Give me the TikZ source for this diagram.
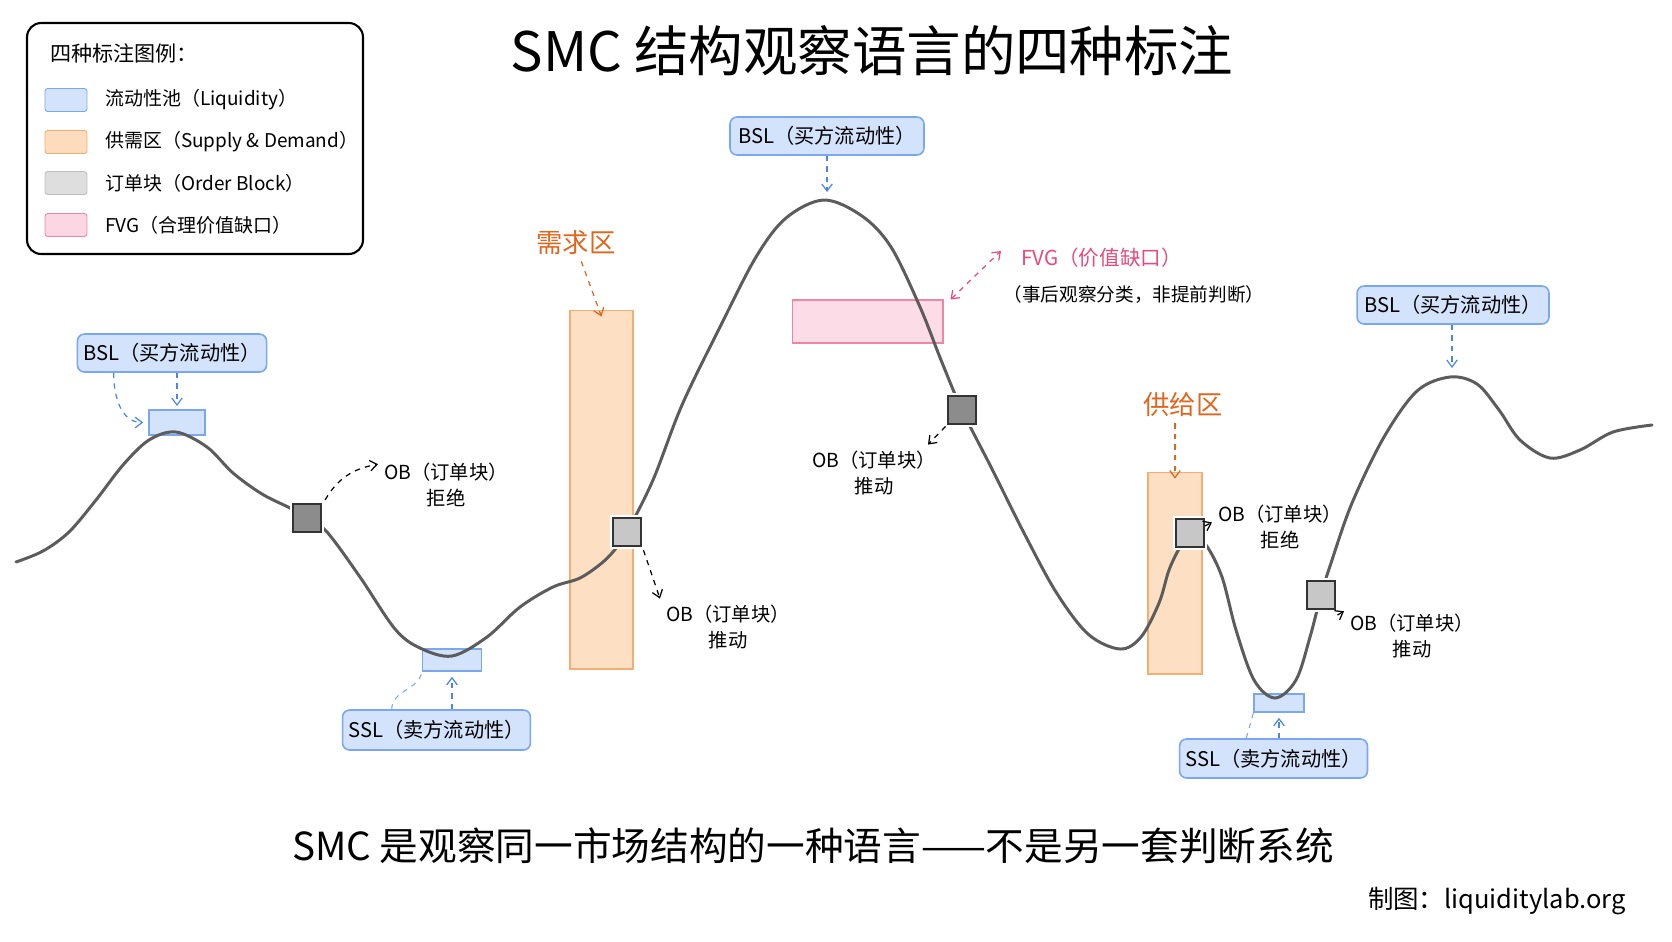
\documentclass[tikz,border=0pt]{standalone}
\usepackage{fontspec}
\setmainfont{Noto Sans CJK SC}
\usetikzlibrary{arrows.meta,positioning}
\definecolor{liqfill}{HTML}{D3E3FC}
\definecolor{liqline}{HTML}{7AA7EE}
\definecolor{liqarrow}{HTML}{4A86E8}
\definecolor{zonefill}{HTML}{FDDCBE}
\definecolor{zoneline}{HTML}{F4AD72}
\definecolor{zonetext}{HTML}{E0661E}
\definecolor{fvgfill}{HTML}{FCD6E2}
\definecolor{fvgline}{HTML}{F085A6}
\definecolor{fvgtext}{HTML}{E84A7C}
\definecolor{pricecol}{HTML}{5C5C5C}
\tikzset{
    frame/.style={draw, line width=1.2pt, rounded corners=8pt,
                  minimum width=6.72cm, minimum height=4.62cm},
    swatch/.style={line width=0.5pt, rounded corners=1.5pt,
                   minimum width=0.84cm, minimum height=0.46cm, inner sep=0pt},
    legtext/.style={font=\fontsize{10.8}{12}\selectfont, anchor=west},
    tag/.style={draw=liqline, fill=liqfill, line width=0.9pt, rounded corners=4pt,
                minimum height=0.76cm, font=\fontsize{11.5}{13}\selectfont},
    liq/.style={draw=liqline, fill=liqfill, line width=0.6pt, inner sep=0pt},
    zone/.style={draw=zoneline, fill=zonefill, fill opacity=0.9, line width=0.6pt, inner sep=0pt},
    fvgbox/.style={draw=fvgline, fill=fvgfill, fill opacity=0.85, line width=0.6pt, inner sep=0pt},
    ob/.style={draw=black!80, line width=0.8pt, minimum size=0.56cm, inner sep=0pt,
               preaction={draw=white, line width=3pt}},
    note/.style={font=\fontsize{11}{15}\selectfont, align=center},
    zonelabel/.style={font=\fontsize{15}{18}\selectfont, text=zonetext},
    flow/.style={-{Straight Barb[length=4pt,width=6pt]}, dashed, line width=0.7pt},
    price/.style={draw=pricecol, line width=1.7pt, line cap=round},
}
\begin{document}
\begin{tikzpicture}[x=0.02cm, y=-0.02cm]
    \useasboundingbox (0,0) rectangle (1672,941);

    % legend
    \node[frame] (legend) at (195,138.5) {};
    \node[anchor=west, font=\fontsize{12}{14}\selectfont] (legtitle) at (44,53) {四种标注图例：};
    \node[swatch, draw=liqline, fill=liqfill] (sw1) at (66,100) {};
    \node[swatch, draw=zoneline, fill=zonefill] (sw2) at (66,142) {};
    \node[swatch, draw=black!25, fill=black!13] (sw3) at (66,183) {};
    \node[swatch, draw=fvgline, fill=fvgfill] (sw4) at (66,225) {};
    \node[legtext] (lg1) at (99,100) {流动性池（Liquidity）};
    \node[legtext] (lg2) at (99,142) {供需区（Supply \& Demand）};
    \node[legtext] (lg3) at (99,183) {订单块（Order Block）};
    \node[legtext] (lg4) at (99,225) {FVG（合理价值缺口）};

    % title
    \node[font=\fontsize{31}{35}\selectfont] (title) at (872,51) {SMC 结构观察语言的四种标注};

    % zones
    \node[zone, minimum width=1.26cm, minimum height=7.18cm] (demand) at (601.5,489.5) {};
    \node[zone, minimum width=1.08cm, minimum height=4.04cm] (supply) at (1175,573) {};
    \node[fvgbox, minimum width=3.02cm, minimum height=0.86cm] (fvg) at (867.5,321.5) {};
    \node[liq, minimum width=1.12cm, minimum height=0.5cm] (pool1) at (177,422.5) {};
    \node[liq, minimum width=1.18cm, minimum height=0.44cm] (pool2) at (452,660) {};
    \node[liq, minimum width=1.0cm, minimum height=0.36cm] (pool3) at (1279,703) {};

    % price path
    \draw[price] plot[smooth, tension=0.55] coordinates {
        (16,562) (43,551) (69,532) (96,500) (123,465) (149,440) (176,432)
        (207,447) (233,473) (262,494) (290,508) (307,518) (327,532) (360,577)
        (395,629) (420,648) (452,656) (487,637) (520,607) (553,587) (580,578)
        (603,562) (617,547) (627,532) (653,480) (682,405) (720,327) (756,257)
        (786,218) (824,200) (862,216) (891,247) (920,307) (941,360) (962,410)
        (992,469) (1024,533) (1056,592) (1088,634) (1120,649) (1141,637)
        (1159,603) (1169,570) (1180,547) (1190,533) (1206,545) (1222,577)
        (1236,630) (1254,680) (1275,698) (1296,680) (1310,637) (1321,595)
        (1331,563) (1352,503) (1384,437) (1417,391) (1450,377) (1477,384)
        (1499,410) (1520,440) (1550,458) (1580,450) (1613,432) (1652,425)};
    \coordinate (peak2) at (827,192);
    \coordinate (peak3) at (1452,368);

    % order blocks
    \node[ob, fill=black!45] (ob1) at (307,518) {};
    \node[ob, fill=black!22] (ob2) at (627,532) {};
    \node[ob, fill=black!45] (ob3) at (962,410) {};
    \node[ob, fill=black!22] (ob4) at (1190,533) {};
    \node[ob, fill=black!22] (ob5) at (1321,595) {};

    % liquidity tags
    \node[tag, minimum width=3.78cm] (bsl1) at (172,353) {BSL（买方流动性）};
    \node[tag, minimum width=3.88cm] (bsl2) at (827,136) {BSL（买方流动性）};
    \node[tag, minimum width=3.84cm] (bsl3) at (1453,305) {BSL（买方流动性）};
    \node[tag, minimum width=3.74cm, minimum height=0.8cm] (ssl1) at (436.5,730) {SSL（卖方流动性）};
    \node[tag, minimum width=3.74cm, minimum height=0.78cm] (ssl2) at (1273.5,758.5) {SSL（卖方流动性）};

    \draw[flow, liqarrow] (bsl1.south -| pool1) -- ([yshift=2pt]pool1.north);
    \draw[flow, liqarrow] ([xshift=0.74cm]bsl1.south west) to[out=-90, in=180] ([xshift=-3pt]pool1.west);
    \draw[flow, liqarrow] (bsl2.south -| peak2) -- (peak2);
    \draw[flow, liqarrow] (bsl3.south -| peak3) -- (peak3);
    \draw[flow, liqarrow] (ssl1.north -| pool2) -- ([yshift=-3pt]pool2.south);
    \draw[dashed, liqline, line width=0.6pt] ([xshift=1.0cm]ssl1.north west) to[out=90, in=-100] (pool2.south west);
    \draw[flow, liqarrow] (ssl2.north -| pool3) -- ([yshift=-3pt]pool3.south);
    \draw[dashed, liqline, line width=0.6pt] ([xshift=1.35cm]ssl2.north west) -- (pool3.south west);

    % zone labels
    \node[zonelabel] (dlabel) at (576,243) {需求区};
    \node[zonelabel] (slabel) at (1183,405) {供给区};
    \draw[flow, zonetext] ([xshift=3pt]dlabel.south) -- ([yshift=-4pt]demand.north);
    \draw[flow, zonetext] (slabel.south -| supply) -- ([yshift=-4pt]supply.north);

    % fvg note
    \node[font=\fontsize{11.7}{14}\selectfont, text=fvgtext, anchor=west] (fvgtag) at (1015,258) {FVG（价值缺口）};
    \node[font=\fontsize{10.6}{12}\selectfont, below=3pt of fvgtag.south west, anchor=north west,
          xshift=-10pt] (fvgnote) {（事后观察分类，非提前判断）};
    \draw[{Straight Barb[length=4pt,width=6pt]}-{Straight Barb[length=4pt,width=6pt]}, dashed, line width=0.7pt, fvgtext]
        ([xshift=4pt]fvg.north east) -- ([xshift=-8pt,yshift=4pt]fvgtag.west);

    % order block notes
    \node[note] (obn1) at (446,485) {OB（订单块）\\拒绝};
    \node[note] (obn2) at (728,627) {OB（订单块）\\推动};
    \node[note] (obn3) at (874,473) {OB（订单块）\\推动};
    \node[note] (obn4) at (1280,527) {OB（订单块）\\拒绝};
    \node[note] (obn5) at (1412,636) {OB（订单块）\\推动};
    \draw[flow] ([shift={(2pt,2pt)}]ob1.north east) to[out=60, in=190] (obn1.163);
    \draw[flow] ([shift={(1pt,-2pt)}]ob2.south east) -- (obn2.north west);
    \draw[flow] ([shift={(-1pt,-1pt)}]ob3.south west) -- ([xshift=-8pt]obn3.north east);
    \draw[flow] ([yshift=4pt]ob4.east) -- ([yshift=6pt]ob4.east -| obn4.west);
    \draw[flow] ([shift={(1pt,-3pt)}]ob5.south east) -- (obn5.160);

    % footer
    \node[font=\fontsize{22}{26}\selectfont] (message) at (813,846) {SMC 是观察同一市场结构的一种语言——不是另一套判断系统};
    \node[font=\fontsize{14.5}{17}\selectfont, anchor=east] (credit) at (1632,901) {制图：liquiditylab.org};

\end{tikzpicture}
\end{document}
